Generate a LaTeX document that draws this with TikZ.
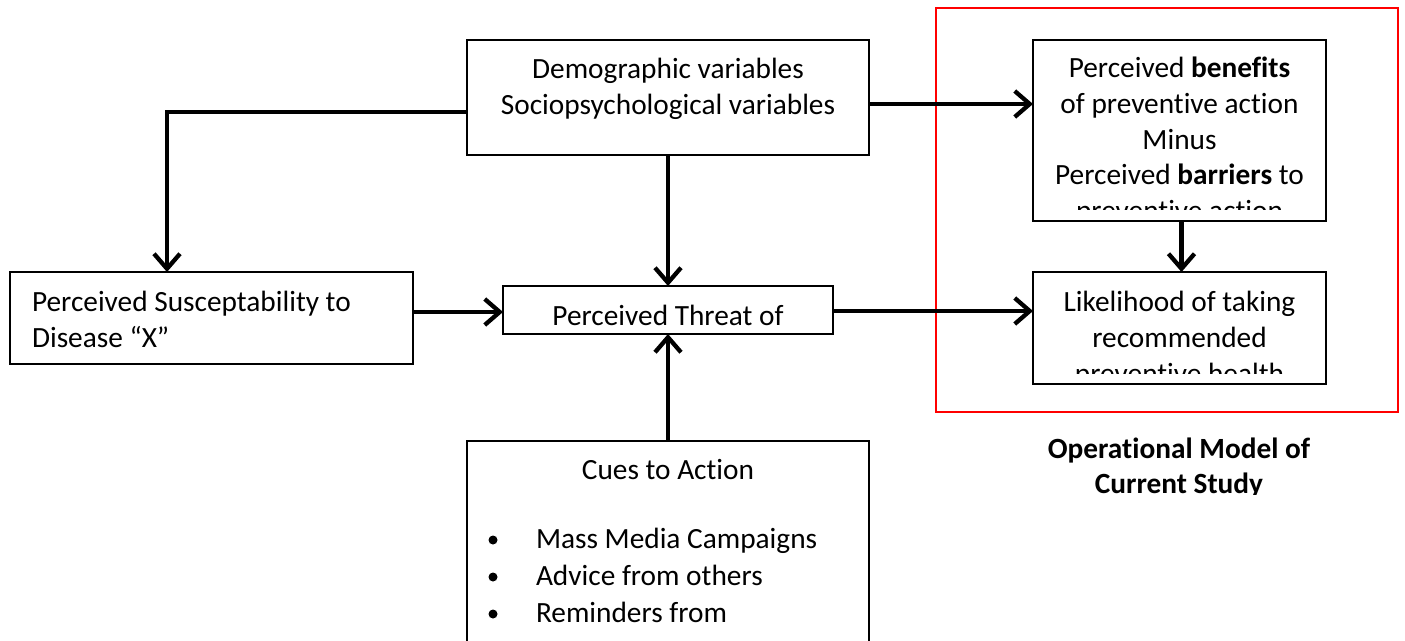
\documentclass[tikz,border=0pt]{standalone}
\usepackage{fontspec}
\setmainfont{Carlito}[Ligatures={NoCommon,NoContextual}]
\usetikzlibrary{arrows.meta}
\tikzset{
  box/.style={draw=black, line width=1.5pt, inner sep=0pt, outer sep=0pt},
  arr/.style={line width=4.3pt, -{Straight Barb[length=15pt,width=26pt]}},
  lbl/.style={anchor=base, inner sep=0pt, outer sep=0pt,
    font=\fontsize{29.33pt}{35.8pt}\selectfont},
  lbll/.style={lbl, anchor=base west},
  dot/.style={circle, fill=black, inner sep=0pt, minimum size=9pt},
}
\begin{document}
\begin{tikzpicture}[x=1pt, y=-1pt]
  \clip (0,0) rectangle (1405,640);
  \fill[white] (0,0) rectangle (1405,640);

  % framed study region
  \node[draw=red, line width=2pt, inner sep=0pt, minimum width=462pt, minimum height=404pt] (study) at (1167,210) {};

  % boxes
  \node[box, minimum width=402pt, minimum height=115pt] (demo)   at (668,97.5) {};
  \node[box, minimum width=293pt, minimum height=181pt] (benef)  at (1179.5,130.5) {};
  \node[box, minimum width=293pt, minimum height=112pt] (likely) at (1179.5,328) {};
  \node[box, minimum width=403pt, minimum height=92pt]  (susc)   at (211.5,318) {};
  \node[box, minimum width=330pt, minimum height=48pt]  (threat) at (668,310) {};
  \node[box, minimum width=402pt, minimum height=230pt] (cues)   at (668,556) {};

  % texts
  \node[lbl] (demo1) at (668,78)  {Demographic variables};
  \node[lbl] (demo2) at (668,114) {Sociopsychological variables};

  \begin{scope}
    \clip (1033,40) rectangle (1326,209);
    \node[lbl] (ben1) at (1179.5,77)  {Perceived \textbf{benefits}};
    \node[lbl] (ben2) at (1179.5,113) {of preventive action};
    \node[lbl] (ben3) at (1179.5,149) {Minus};
    \node[lbl] (ben4) at (1179.5,184.5) {Perceived \textbf{barriers} to};
    \node[lbl] (ben5) at (1179.5,220) {preventive action};
  \end{scope}

  \begin{scope}
    \clip (1033,272) rectangle (1326,373);
    \node[lbl] (lik1) at (1179.5,311) {Likelihood of taking};
    \node[lbl] (lik2) at (1179.5,347) {recommended};
    \node[lbl] (lik3) at (1179.5,383) {preventive health};
  \end{scope}

  \node[lbll] (sus1) at (32,311) {Perceived Susceptability to};
  \node[lbll] (sus2) at (32,347) {Disease “X”};

  \node[lbl] (thr1) at (668,325) {Perceived Threat of};

  \node[lbl] (cue0) at (668,479) {Cues to Action};
  \node[dot] (b1) at (493,540) {};
  \node[dot] (b2) at (493,577) {};
  \node[dot] (b3) at (493,614) {};
  \node[lbll] (cue1) at (536,548) {Mass Media Campaigns};
  \node[lbll] (cue2) at (536,585) {Advice from others};
  \node[lbll] (cue3) at (536,622) {Reminders from};

  \begin{scope}
    \clip (900,420) rectangle (1405,494);
    \node[lbl] (op1) at (1179,458) {\textbf{Operational Model of}};
    \node[lbl] (op2) at (1179,493) {\textbf{Current Study}};
  \end{scope}

  % connectors
  \coordinate (dsplit) at ([yshift=-14.5pt]demo.west);
  \draw[arr] (dsplit) -| ([xshift=-44.5pt]susc.north);
  \draw[arr] (demo.south) -- (threat.north);
  \draw[arr] ([yshift=-6.5pt]demo.east) -- ([yshift=-6.5pt]demo.east -| benef.west);
  \draw[arr] ([yshift=-2pt]threat.west -| susc.east) -- ([yshift=-2pt]threat.west);
  \draw[arr] ([yshift=-1pt]threat.east) -- ([yshift=-1pt]threat.east -| likely.west);
  \draw[arr] (cues.north) -- (threat.south);
  \draw[arr] ([xshift=2pt]benef.south) -- ([xshift=2pt]likely.north);
\end{tikzpicture}
\end{document}
